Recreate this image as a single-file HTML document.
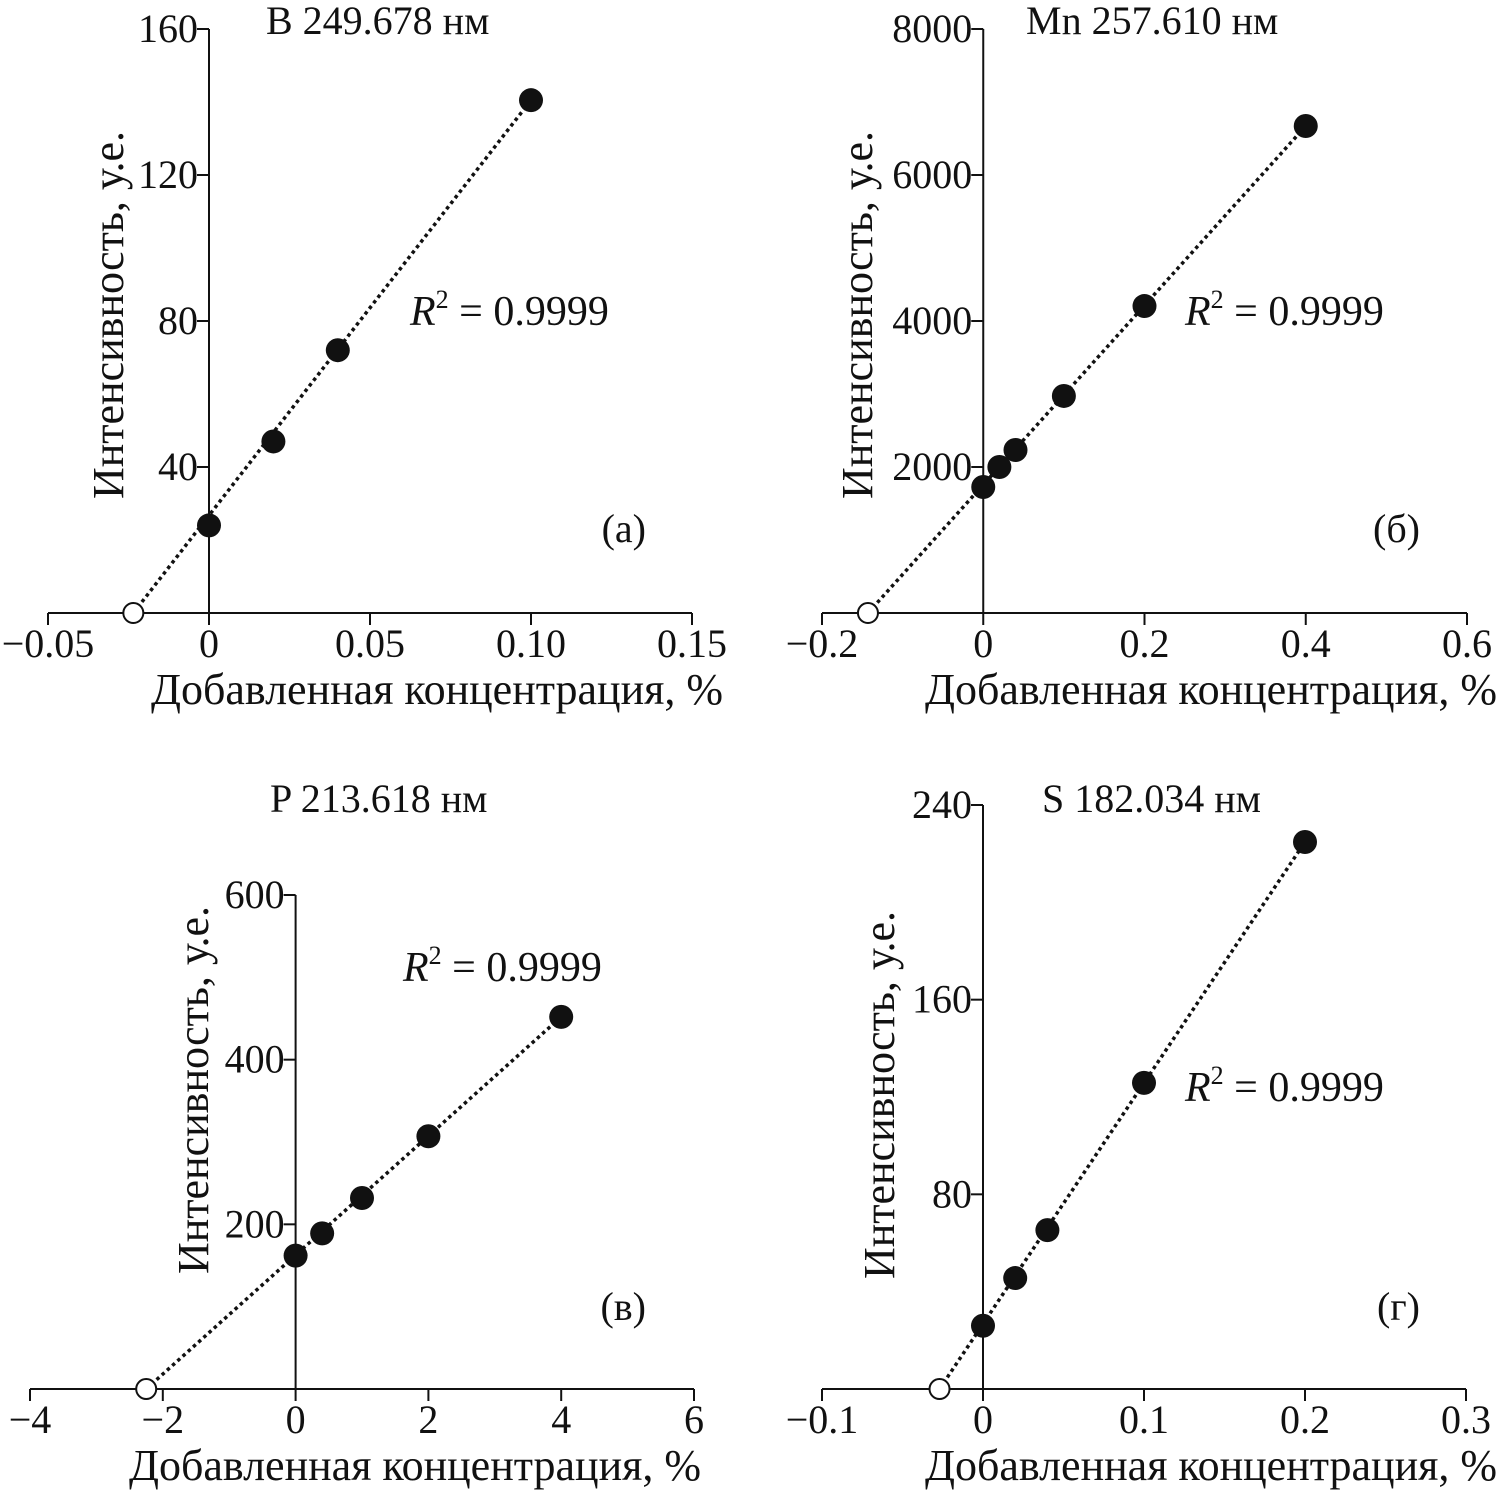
<!DOCTYPE html>
<html><head><meta charset="utf-8">
<style>
body{margin:0;background:#fff}
svg text{font-family:"Liberation Serif",serif;fill:#111}
</style></head>
<body>
<svg id="chart" width="1501" height="1493" viewBox="0 0 1501 1493" xmlns="http://www.w3.org/2000/svg"></svg>
<script>
// Panel a (B)
const aX=[0,0.02,0.04,0.1];
const aY=[24,47,72,140.5];
const aXTicks=[-0.05,0,0.05,0.10,0.15];
const aXLabels=["−0.05","0","0.05","0.10","0.15"];
const aYTicks=[40,80,120,160];
const aIntercept=-0.0235;
// Panel b (Mn)
const bX=[0,0.02,0.04,0.1,0.2,0.4];
const bY=[1726,2000,2233,2973,4205,6671];
const bXTicks=[-0.2,0,0.2,0.4,0.6];
const bXLabels=["−0.2","0","0.2","0.4","0.6"];
const bYTicks=[2000,4000,6000,8000];
const bIntercept=-0.143;
// Panel c (P)
const cX=[0,0.4,1,2,4];
const cY=[162,189,232,307,452];
const cXTicks=[-4,-2,0,2,4,6];
const cXLabels=["−4","−2","0","2","4","6"];
const cYTicks=[200,400,600];
const cIntercept=-2.25;
// Panel d (S)
const dX=[0,0.02,0.04,0.1,0.2];
const dY=[26,45.6,65.3,125.8,224.8];
const dXTicks=[-0.1,0,0.1,0.2,0.3];
const dXLabels=["−0.1","0","0.1","0.2","0.3"];
const dYTicks=[80,160,240];
const dIntercept=-0.027;

const svg=document.getElementById('chart');
const NS="http://www.w3.org/2000/svg";
function mk(tag,attrs,parent){const e=document.createElementNS(NS,tag);for(const k in attrs)e.setAttribute(k,attrs[k]);(parent||svg).appendChild(e);return e;}

function panel(cfg){
  const g=mk('g',{});
  
  
  const sx=v=>cfg.x0+(v-cfg.xmin)/(cfg.xmax-cfg.xmin)*(cfg.x1-cfg.x0);
  const sy=v=>cfg.yBase-(v/cfg.ymax)*(cfg.yBase-cfg.yTop);
  const xa=mk('line',{x1:cfg.x0,y1:cfg.yBase,x2:cfg.x1,y2:cfg.yBase,stroke:'#111','stroke-width':2},g);
  
  
  cfg.xt.forEach((t,i)=>{
    mk('line',{x1:sx(t),y1:cfg.yBase,x2:sx(t),y2:cfg.yBase+12,stroke:'#111','stroke-width':2},g);
    const tx=mk('text',{x:sx(t),y:cfg.yBase+44,'text-anchor':'middle','font-size':40},g);
    tx.textContent=cfg.xl[i];
    
    
  });
  const x0=sx(0);
  const ya=mk('line',{x1:x0,y1:cfg.yTop,x2:x0,y2:cfg.yBase,stroke:'#111','stroke-width':2},g);
  
  
  cfg.yt.forEach(t=>{
    mk('line',{x1:x0-12,y1:sy(t),x2:x0,y2:sy(t),stroke:'#111','stroke-width':2},g);
    const tx=mk('text',{x:x0-11,y:sy(t)+13,'text-anchor':'end','font-size':40},g);
    tx.textContent=t;
    
    
  });
  const lx=cfg.xs[cfg.xs.length-1], ly=cfg.ys[cfg.ys.length-1];
  const ln=mk('line',{x1:sx(cfg.ic),y1:sy(0),x2:sx(lx),y2:sy(ly),stroke:'#111','stroke-width':3.5,'stroke-dasharray':'3.5,3.5'},g);
  
  
  const oc=mk('circle',{cx:sx(cfg.ic),cy:sy(0),r:10,fill:'#fff',stroke:'#111','stroke-width':2},g);
  
  
  cfg.xs.forEach((v,i)=>{
    const c=mk('circle',{cx:sx(v),cy:sy(cfg.ys[i]),r:12,fill:'#111'},g);
    
    
  });
  const t=mk('text',{x:cfg.titleX,y:cfg.titleY,'font-size':40},g);
  t.textContent=cfg.title;
  
  
  const r=mk('text',{x:cfg.rX,y:cfg.rY,'font-size':42},g);
  r.innerHTML='<tspan font-style="italic">R</tspan><tspan font-size="26" dy="-17">2</tspan><tspan dy="17"> = 0.9999</tspan>';
  
  
  const p=mk('text',{x:cfg.pX,y:cfg.pY,'text-anchor':'end','font-size':40},g);
  p.textContent=cfg.pl;
  
  
  const xl=mk('text',{x:cfg.xlX,y:cfg.yBase+91,'text-anchor':'middle','font-size':44},g);
  xl.textContent='Добавленная концентрация, %';
  
  
  const yl=mk('text',{x:0,y:0,'text-anchor':'middle','font-size':44,transform:`translate(${cfg.ylX},${cfg.ylY}) rotate(-90)`},g);
  yl.textContent='Интенсивность, у.е.';
  
  
}

panel({name:'panel-a-boron',x0:48,x1:692,xmin:-0.05,xmax:0.15,yBase:613,yTop:29,ymax:160,xs:aX,ys:aY,xt:aXTicks,xl:aXLabels,yt:aYTicks,ic:aIntercept,
  title:'B 249.678 нм',titleX:266,titleY:34,rX:410,rY:325,pX:646,pY:542,pl:'(а)',ylX:123,ylY:315,xlX:437});
panel({name:'panel-b-manganese',x0:822,x1:1467,xmin:-0.2,xmax:0.6,yBase:613,yTop:29,ymax:8000,xs:bX,ys:bY,xt:bXTicks,xl:bXLabels,yt:bYTicks,ic:bIntercept,
  title:'Mn 257.610 нм',titleX:1026,titleY:34,rX:1185,rY:325,pX:1420,pY:542,pl:'(б)',ylX:872,ylY:315,xlX:1211});
panel({name:'panel-c-phosphorus',x0:30,x1:694,xmin:-4,xmax:6,yBase:1389,yTop:895,ymax:600,xs:cX,ys:cY,xt:cXTicks,xl:cXLabels,yt:cYTicks,ic:cIntercept,
  title:'P 213.618 нм',titleX:270,titleY:812,rX:403,rY:981,pX:646,pY:1320,pl:'(в)',ylX:208,ylY:1090,xlX:415});
panel({name:'panel-d-sulfur',x0:822,x1:1466,xmin:-0.1,xmax:0.3,yBase:1389,yTop:805,ymax:240,xs:dX,ys:dY,xt:dXTicks,xl:dXLabels,yt:dYTicks,ic:dIntercept,
  title:'S 182.034 нм',titleX:1042,titleY:812,rX:1185,rY:1101,pX:1420,pY:1320,pl:'(г)',ylX:894,ylY:1095,xlX:1211});
</script>
</body></html>
